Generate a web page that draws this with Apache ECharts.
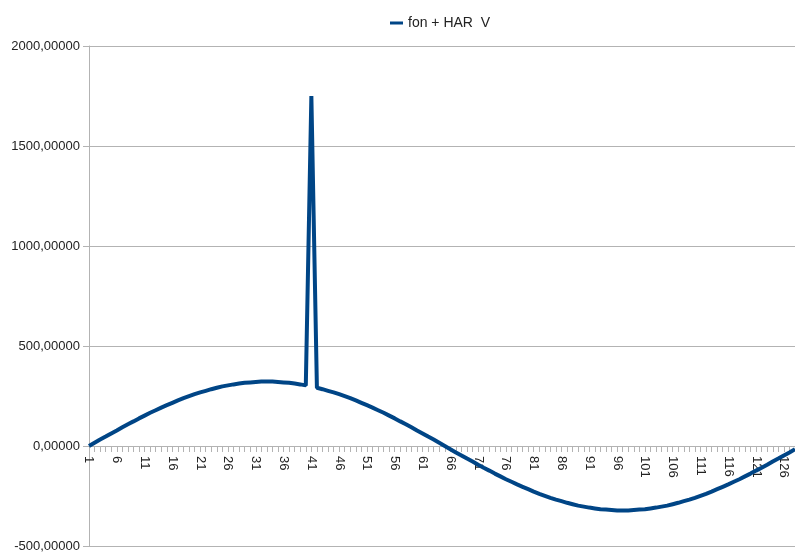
<!DOCTYPE html>
<html lang="en">
<head>
    <meta charset="UTF-8">
    <title>fon + HAR V</title>
    <script src="https://cdn.jsdelivr.net/npm/echarts@6/dist/echarts.min.js"></script>
    <style>
        html, body { margin: 0; padding: 0; background: #fff; }
        #chart { width: 795px; height: 553px; }
    </style>
</head>
<body>
    <div id="chart"></div>
    <script>
        // x categories 1..128
        var categories = [];
        for (var n = 1; n <= 128; n++) categories.push(String(n));

        var seriesName = 'fon + HAR  V';

        // values: first half (1..65), spike at 41
        var firstHalf = [
            0, 16, 32, 47, 63, 78, 94, 109, 123, 138,
            152, 166, 179, 192, 204, 216, 228, 239, 249, 259,
            268, 276, 284, 291, 298, 303, 308, 312, 316, 318,
            320, 322, 322, 322, 320, 318, 316, 312, 308, 303,
            1750, 291, 284, 276, 268, 259, 249, 239, 228, 216,
            204, 192, 179, 166, 152, 138, 123, 109, 94, 78,
            63, 47, 32, 16, 0
        ];
        // second half (66..128)
        var secondHalf = [
            -16, -32, -47, -63, -78, -94, -109, -123, -138, -152,
            -166, -179, -192, -204, -216, -228, -239, -249, -259, -268,
            -276, -284, -291, -298, -303, -308, -312, -316, -318, -320,
            -322, -322, -322, -320, -318, -316, -312, -308, -303, -298,
            -291, -284, -276, -268, -259, -249, -239, -228, -216, -204,
            -192, -179, -166, -152, -138, -123, -109, -94, -78, -63,
            -47, -32, -16
        ];
        var values = firstHalf.concat(secondHalf);

        var yMin = -500, yMax = 2000, yStep = 500;

        var myChart = echarts.init(document.getElementById('chart'));
        var option = {
            backgroundColor: '#ffffff',
            animation: false,
            textStyle: { fontFamily: 'Liberation Sans' },
            legend: {
                data: [seriesName],
                top: 11,
                left: 385,
                icon: 'rect',
                itemWidth: 13,
                itemHeight: 3,
                itemGap: 4,
                textStyle: { color: '#222', fontSize: 14, fontFamily: 'Liberation Sans' }
            },
            grid: { left: 89, right: 0, top: 46, bottom: 7, containLabel: false, outerBoundsMode: 'none' },
            xAxis: {
                type: 'category',
                data: categories,
                boundaryGap: false,
                position: 'bottom',
                offset: -100,
                axisLine: { onZero: false, show: true, lineStyle: { color: '#b3b3b3', width: 1 } },
                axisTick: { show: true, interval: 0, length: 6, lineStyle: { color: '#b3b3b3' } },
                axisLabel: {
                    interval: 4,
                    rotate: -90,
                    margin: 10,
                    color: '#222',
                    fontSize: 13,
                    fontFamily: 'Liberation Sans'
                },
                splitLine: { show: false }
            },
            yAxis: {
                type: 'value',
                min: yMin,
                max: yMax,
                interval: yStep,
                axisLine: { show: true, lineStyle: { color: '#b3b3b3' } },
                axisTick: { show: true, length: 6, lineStyle: { color: '#b3b3b3' } },
                axisLabel: {
                    color: '#222',
                    fontSize: 13,
                    margin: 9,
                    fontFamily: 'Liberation Sans',
                    formatter: function (v) { return v.toFixed(5).replace('.', ','); }
                },
                splitLine: { show: true, lineStyle: { color: '#b3b3b3', width: 1 } }
            },
            series: [{
                name: seriesName,
                type: 'line',
                data: values,
                symbol: 'none',
                smooth: false,
                lineStyle: { color: '#004586', width: 4 },
                itemStyle: { color: '#004586' }
            }]
        };
        myChart.setOption(option);
    </script>
</body>
</html>
